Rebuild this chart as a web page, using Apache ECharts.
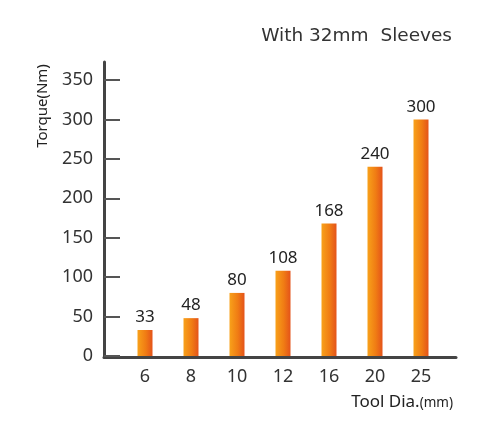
<!DOCTYPE html>
<html>
<head>
<meta charset="utf-8">
<script src="https://cdn.jsdelivr.net/npm/echarts@6/dist/echarts.min.js"></script>
<style>html,body{margin:0;padding:0;background:#fff;}#c{width:500px;height:436px;}</style>
</head>
<body>
<div id="c"></div>
<script>
var categories = ['6', '8', '10', '12', '16', '20', '25'];
var torque = [33, 48, 80, 108, 168, 240, 300];
var yTicks = [0, 50, 100, 150, 200, 250, 300, 350];
var titleText = 'With 32mm  Sleeves';
var yName = 'Torque(Nm)';

var chart = echarts.init(document.getElementById('c'), null, {renderer: 'canvas'});
var fontNum = 'Noto Sans';
chart.setOption({
  backgroundColor: '#ffffff',
  animation: false,
  title: [{
    text: titleText,
    right: 43, top: 22,
    textStyle: {fontFamily: 'DejaVu Sans', fontSize: 18.5, fontWeight: 'normal', color: '#333'}
  }, {
    text: '{a|Tool Dia.}{b|(mm)}',
    right: 42, top: 389,
    textStyle: {fontWeight: 'normal', rich: {
      a: {fontFamily: fontNum, fontSize: 17, fontWeight: 'normal', color: '#222'},
      b: {fontFamily: fontNum, fontSize: 13.5, fontWeight: 'normal', color: '#222', padding: [2, 0, 0, 0]}
    }}
  }],
  graphic: [{
    type: 'text', x: 43, y: 106, rotation: Math.PI / 2,
    style: {text: yName, fontFamily: fontNum, fontSize: 15, fill: '#222', align: 'center', verticalAlign: 'middle'}
  }],
  grid: [
    {left: 104, right: 44, top: 62, bottom: 79},
    {left: 122, right: 56, top: 80, bottom: 80}
  ],
  xAxis: [{
    gridIndex: 0, type: 'value', min: 0, max: 1,
    axisLine: {show: true, lineStyle: {color: '#444', width: 3}},
    axisTick: {show: false}, axisLabel: {show: false}, splitLine: {show: false}
  }, {
    gridIndex: 1, type: 'category', data: categories,
    axisLine: {show: false}, axisTick: {show: false},
    axisLabel: {fontFamily: fontNum, fontSize: 18, color: '#333', margin: 12}
  }],
  yAxis: [{
    gridIndex: 0, type: 'value', min: 0, max: 1,
    axisLine: {show: true, lineStyle: {color: '#444', width: 3}},
    axisTick: {show: false}, axisLabel: {show: false}, splitLine: {show: false}
  }, {
    gridIndex: 1, type: 'value', min: yTicks[0], max: yTicks[yTicks.length - 1], interval: 50,
    offset: 18,
    axisLine: {show: false},
    axisTick: {show: true, inside: true, length: 16, lineStyle: {color: '#555', width: 2}},
    axisLabel: {fontFamily: fontNum, fontSize: 18, color: '#333', margin: 11},
    splitLine: {show: false}
  }],
  series: [{
    type: 'bar', xAxisIndex: 1, yAxisIndex: 1,
    data: torque, barWidth: 15,
    itemStyle: {
      color: new echarts.graphic.LinearGradient(0, 0, 1, 0, [
        {offset: 0, color: '#F8A11A'},
        {offset: 0.55, color: '#F07C14'},
        {offset: 1, color: '#E4531A'}
      ])
    },
    label: {show: true, position: 'top', distance: 4, fontFamily: fontNum, fontSize: 17, color: '#222'}
  }]
});
</script>
</body>
</html>
